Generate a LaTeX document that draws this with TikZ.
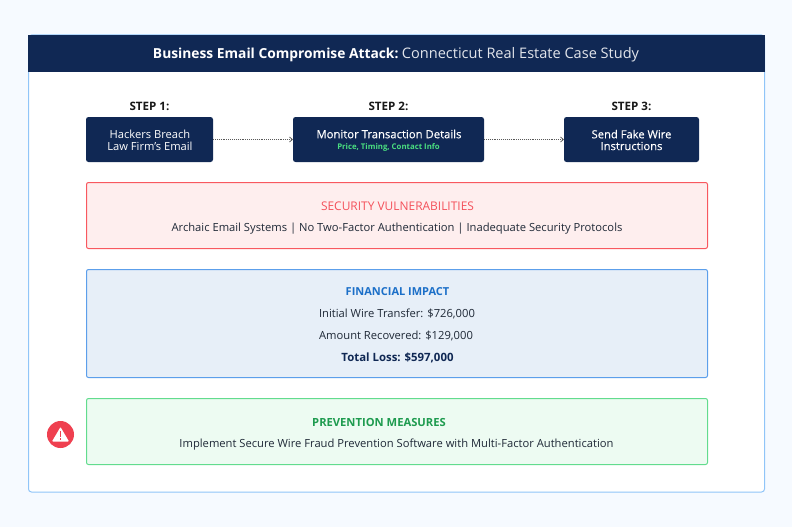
\documentclass[tikz,border=0pt]{standalone}
\usepackage{fontspec}
\setmainfont{Open Sans}
\newfontfamily\medfont[FakeBold=0.25]{Open Sans}
\usetikzlibrary{arrows.meta}
\definecolor{pagebg}{HTML}{F6FAFF}
\definecolor{navy}{HTML}{102854}
\definecolor{cardline}{HTML}{90C5F8}
\definecolor{redline}{HTML}{F8585F}
\definecolor{redfill}{HTML}{FEEEEE}
\definecolor{redtext}{HTML}{F4505A}
\definecolor{blueline}{HTML}{5C9FEB}
\definecolor{bluefill}{HTML}{E7EFF8}
\definecolor{bluetext}{HTML}{1B6FC8}
\definecolor{greenline}{HTML}{62DC8E}
\definecolor{greenfill}{HTML}{EDFBF2}
\definecolor{greentext}{HTML}{1E9B4F}
\definecolor{mint}{HTML}{4ADE80}
\definecolor{alertred}{HTML}{EF4050}
\definecolor{bodytext}{HTML}{1F2937}
\tikzset{
  x=1pt,y=-1pt,
  txt/.style={inner sep=0pt,outer sep=0pt,align=center,anchor=center,font=\fontsize{11.2}{12}\selectfont,text=bodytext},
  stepbox/.style={rectangle,rounded corners=2.5pt,fill=navy,draw=none,minimum height=45pt,inner sep=0pt,outer sep=0pt,anchor=center},
  steptext/.style={inner sep=0pt,outer sep=0pt,anchor=center,text=white,align=center,font=\fontsize{11.15}{12}\selectfont},
  steplabel/.style={inner sep=0pt,anchor=center,font=\fontsize{11.6}{12}\selectfont\bfseries,text=black!90},
  panel/.style={rectangle,rounded corners=2pt,line width=1pt,minimum width=621pt,inner sep=0pt,outer sep=0pt,anchor=center},
  flow/.style={densely dotted,line width=0.9pt,draw=black!65,-{Straight Barb[length=3pt,width=5pt,line width=0.7pt]}},
}
\begin{document}
\begin{tikzpicture}
\useasboundingbox (0,0) rectangle (792,527);
\fill[pagebg] (0,0) rectangle (792,527);
\node[rectangle,rounded corners=3pt,fill=white,draw=cardline,line width=1pt,minimum width=736pt,minimum height=457pt,inner sep=0pt,anchor=center] (card) at (396.5,263.5) {};
\node[rectangle,fill=navy,minimum width=737pt,minimum height=37pt,inner sep=0pt,anchor=center] (header) at (396.5,53.5) {};
\node[inner sep=0pt,anchor=center,text=white] (title) at (396,55) {\fontsize{13.8}{16}\selectfont\textbf{Business Email Compromise Attack:}\hspace{3.5pt}\fontsize{14.55}{16}\selectfont\textcolor{white!88!navy}{Connecticut Real Estate Case Study}};

\node[steplabel] (l1) at (149.5,106.5) {STEP 1:};
\node[steplabel] (l2) at (388.5,106.5) {STEP 2:};
\node[steplabel] (l3) at (631.5,106.5) {STEP 3:};
\node[stepbox,minimum width=127pt] (s1) at (149.5,139.5) {};
\node[steptext] (s1t) at (150,140.5) {Hackers Breach\\[-0.2pt]Law Firm's Email};
\node[stepbox,minimum width=191pt] (s2) at (388.5,139.5) {};
\node[inner sep=0pt,anchor=center,text=white,font=\fontsize{11.3}{12}\selectfont\medfont] (s2a) at (389,134) {Monitor Transaction Details};
\node[inner sep=0pt,anchor=center,text=mint,font=\fontsize{7.8}{9}\selectfont\bfseries] (s2b) at (388.5,147.5) {Price, Timing, Contact Info};
\node[stepbox,minimum width=135pt] (s3) at (631.5,139.5) {};
\node[steptext,font=\fontsize{11.2}{12}\selectfont\medfont] (s3t) at (631.5,140) {Send Fake Wire\\[-0.2pt]Instructions};
\draw[flow] (s1) -- (s2);
\draw[flow] (s2) -- (s3);

\node[panel,draw=redline,fill=redfill,minimum height=66pt] (vul) at (397,215.5) {};
\node[txt,text=redtext,font=\fontsize{11.95}{12}\selectfont] (vult) at (397.5,206) {SECURITY VULNERABILITIES};
\node[txt] (vulb) at (397,228.5) {Archaic Email Systems | No Two-Factor Authentication | Inadequate Security Protocols};

\node[panel,draw=blueline,fill=bluefill,minimum height=108pt] (fin) at (397,323.5) {};
\node[txt,text=bluetext,font=\fontsize{11}{12}\selectfont\bfseries] (fint) at (397.5,292) {FINANCIAL IMPACT};
\node[txt] (fin1) at (397,314) {Initial Wire Transfer: \$726,000};
\node[txt] (fin2) at (396,336) {Amount Recovered: \$129,000};
\node[txt,text=navy,font=\fontsize{11.4}{12}\selectfont\bfseries] (fin3) at (397.5,358) {Total Loss: \$597,000};

\node[panel,draw=greenline,fill=greenfill,minimum height=66pt] (pre) at (397,431.5) {};
\node[txt,text=greentext,font=\fontsize{11.2}{12}\selectfont\bfseries] (pret) at (379,422) {PREVENTION MEASURES};
\node[txt] (preb) at (396.5,444.5) {Implement Secure Wire Fraud Prevention Software with Multi-Factor Authentication};

\node[circle,fill=alertred,minimum size=27pt,inner sep=0pt] (alert) at (60.5,434.5) {};
\fill[white,rounded corners=0.8pt] (60.5,427) -- (69,441.5) -- (52,441.5) -- cycle;
\fill[alertred] (59.7,431) rectangle (61.3,437);
\fill[alertred] (59.7,438.2) rectangle (61.3,440);
\end{tikzpicture}
\end{document}
